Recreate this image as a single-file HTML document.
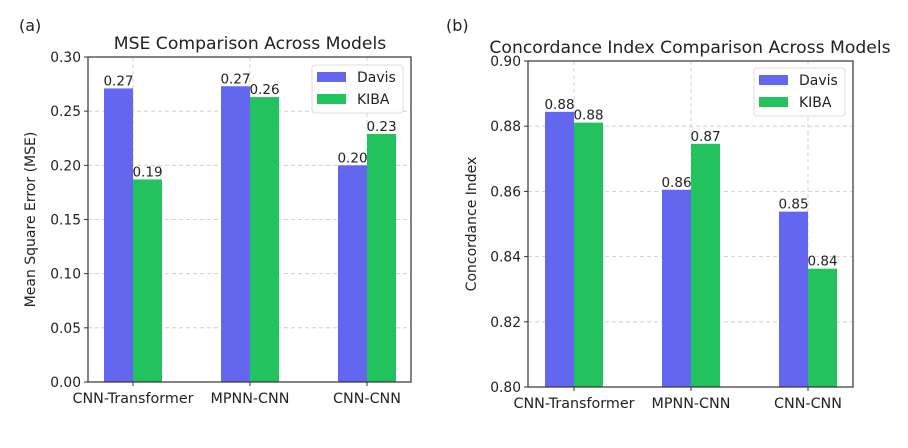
<!DOCTYPE html>
<html><head><meta charset="utf-8"><style>
body{margin:0;background:#fff;width:908px;height:444px;overflow:hidden;font-family:"DejaVu Sans","Liberation Sans",sans-serif}
svg text{fill:#222}
</style></head><body>
<svg id="svg" width="908" height="444"></svg>
<script>
const categories=["CNN-Transformer","MPNN-CNN","CNN-CNN"];
const mseDavis=[0.271,0.273,0.200];
const mseKiba=[0.187,0.263,0.229];
const mseLabelsDavis=["0.27","0.27","0.20"];
const mseLabelsKiba=["0.19","0.26","0.23"];
const mseTicks=[0,0.05,0.10,0.15,0.20,0.25,0.30];
const mseTickLabels=["0.00","0.05","0.10","0.15","0.20","0.25","0.30"];
const ciDavis=[0.8844,0.8605,0.8538];
const ciKiba=[0.8811,0.8746,0.8363];
const ciLabelsDavis=["0.88","0.86","0.85"];
const ciLabelsKiba=["0.88","0.87","0.84"];
const ciTicks=[0.80,0.82,0.84,0.86,0.88,0.90];
const ciTickLabels=["0.80","0.82","0.84","0.86","0.88","0.90"];

const NS="http://www.w3.org/2000/svg";
const svg=document.getElementById('svg');
function mk(tag,attrs,parent,text){const e=document.createElementNS(NS,tag);for(const k in attrs)e.setAttribute(k,attrs[k]);if(text!==undefined)e.textContent=text;(parent||svg).appendChild(e);return e;}

function chart(cfg){
  const g=mk('g',{});
  
  
  const {x0,x1,y0,y1,min,max,centers}=cfg;
  const yS=v=>y1-(v-min)/(max-min)*(y1-y0);
  cfg.ticks.forEach((t,i)=>{
    const y=yS(t);
    const l=mk('line',{x1:x0,x2:x1,y1:y,y2:y,stroke:'#c8c8c8','stroke-dasharray':'4,3','stroke-width':0.8},g);
    
    
    mk('line',{x1:x0-4,x2:x0,y1:y,y2:y,stroke:'#333'},g);
    const tx=mk('text',{x:x0-7,y:y+5,'text-anchor':'end','font-size':13.8},g,cfg.tickLabels[i]);
    
    
  });
  centers.forEach(c=>{mk('line',{x1:c,x2:c,y1:y0,y2:y1,stroke:'#c8c8c8','stroke-dasharray':'4,3','stroke-width':0.8},g);});
  const bw=29;
  categories.forEach((cat,i)=>{
    const c=centers[i];
    const vd=cfg.davis[i], vk=cfg.kiba[i];
    const bd=mk('rect',{x:c-bw,y:yS(vd),width:bw,height:y1-yS(vd),fill:'#6366ee'},g);
    
    
    const bk=mk('rect',{x:c,y:yS(vk),width:bw,height:y1-yS(vk),fill:'#22c35e'},g);
    
    
    const ld=mk('text',{x:c-bw/2,y:yS(vd)-3,'text-anchor':'middle','font-size':13.5},g,cfg.labD[i]);
    
    
    const lk=mk('text',{x:c+bw/2,y:yS(vk)-3,'text-anchor':'middle','font-size':13.5},g,cfg.labK[i]);
    
    
    mk('line',{x1:c,x2:c,y1:y1,y2:y1+4,stroke:'#333'},g);
    const xt=mk('text',{x:c,y:y1+21,'text-anchor':'middle','font-size':14.3},g,cat);
    
    
  });
  const fr=mk('rect',{x:x0,y:y0,width:x1-x0,height:y1-y0,fill:'none',stroke:'#333','stroke-width':1.2},g);
  
  
  const t=mk('text',{x:cfg.titleX,y:y0-8,'text-anchor':'middle','font-size':17.2},g,cfg.title);
  
  
  const yl=mk('text',{x:0,y:0,'text-anchor':'middle','font-size':14,transform:`translate(${cfg.ylX},${(y0+y1)/2}) rotate(-90)`},g,cfg.ylabel);
  
  
  const pl=mk('text',{x:cfg.panelX,y:31,'font-size':16},g,cfg.panel);
  
  
  const lg=mk('g',{},g);
  
  
  const lx=cfg.legX, ly=cfg.legY;
  mk('rect',{x:lx,y:ly,width:91,height:48,rx:3,fill:'#fff','fill-opacity':0.85,stroke:'#ddd'},lg);
  const s1=mk('rect',{x:lx+5,y:ly+7,width:29,height:10,fill:'#6366ee'},lg);
  
  
  const e1=mk('text',{x:lx+45,y:ly+17,'font-size':14},lg,'Davis');
  
  
  const s2=mk('rect',{x:lx+5,y:ly+29,width:29,height:10,fill:'#22c35e'},lg);
  
  
  const e2=mk('text',{x:lx+45,y:ly+39,'font-size':14},lg,'KIBA');
  
  
}
chart({name:'mse-chart',x0:88,x1:411,y0:57,y1:382,min:0,max:0.30,centers:[133,250,367],
  ticks:mseTicks,tickLabels:mseTickLabels,davis:mseDavis,kiba:mseKiba,labD:mseLabelsDavis,labK:mseLabelsKiba,
  title:'MSE Comparison Across Models',titleX:250,ylabel:'Mean Square Error (MSE)',ylX:35,panel:'(a)',panelX:19,legX:312,legY:65});
chart({name:'ci-chart',x0:528,x1:853,y0:61,y1:387,min:0.80,max:0.90,centers:[574,691,808],
  ticks:ciTicks,tickLabels:ciTickLabels,davis:ciDavis,kiba:ciKiba,labD:ciLabelsDavis,labK:ciLabelsKiba,
  title:'Concordance Index Comparison Across Models',titleX:690,ylabel:'Concordance Index',ylX:476,panel:'(b)',panelX:446,legX:754,legY:68});
</script>
</body></html>
